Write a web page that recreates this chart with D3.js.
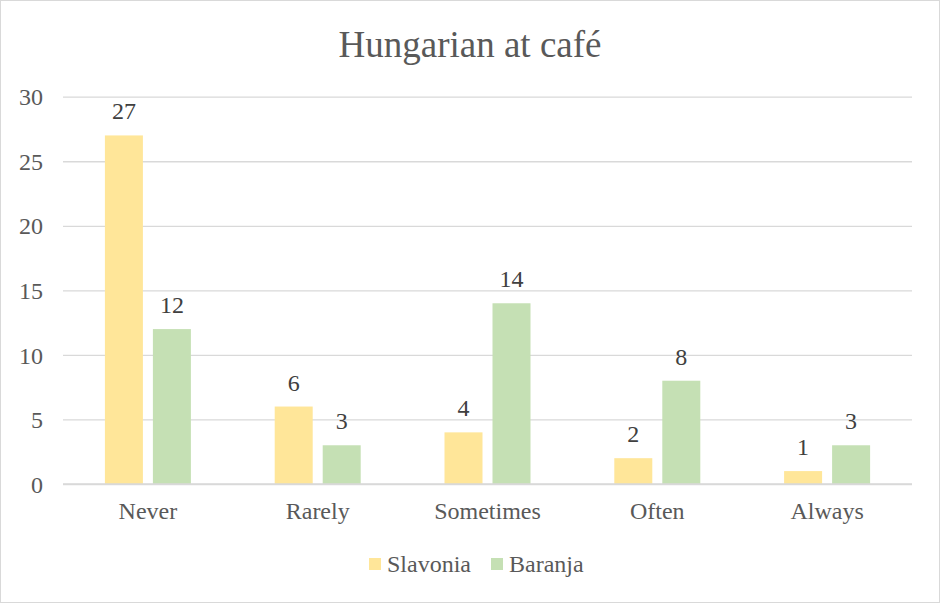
<!DOCTYPE html>
<html>
<head>
<meta charset="utf-8">
<script src="https://cdn.jsdelivr.net/npm/d3@7"></script>
<style>
  html, body { margin: 0; padding: 0; background: #fff; }
  svg { display: block; }
  svg text { font-family: 'Liberation Serif', 'Times New Roman', serif !important; }
</style>
</head>
<body>
<svg id="chart" width="940" height="603"></svg>
<script>
const categories = ["Never", "Rarely", "Sometimes", "Often", "Always"];
const seriesNames = ["Slavonia", "Baranja"];
const slavonia = [27, 6, 4, 2, 1];
const baranja = [12, 3, 14, 8, 3];
const yTicks = [0, 5, 10, 15, 20, 25, 30];
const colors = ["#FFE699", "#C5E0B4"];
const title = "Hungarian at café";

const seriesValues = [slavonia, baranja];
const W = 940, H = 603;
const FONT = "'Liberation Serif', 'Times New Roman', serif";
const svg = d3.select("#chart");

svg.append("rect").attr("x", 0.5).attr("y", 0.5).attr("width", W - 1).attr("height", H - 1)
  .attr("fill", "#fff").attr("stroke", "#D9D9D9").attr("stroke-width", 1);

const plot = { left: 63, right: 912, top: 96.7, bottom: 484 };

const y = d3.scaleLinear().domain([0, 30]).range([plot.bottom, plot.top]);
const x0 = d3.scaleBand().domain(categories).range([plot.left, plot.right]).padding(0);
const groupW = x0.bandwidth() * 0.5065;
const x1 = d3.scaleBand().domain(seriesNames).range([0, groupW]).paddingInner(0.2083).paddingOuter(0);

// gridlines + y labels
const yAxis = d3.axisLeft(y).tickValues(yTicks).tickSize(-(plot.right - plot.left)).tickPadding(20).tickFormat(d3.format("d"));
const gy = svg.append("g").attr("transform", `translate(${plot.left},0)`).call(yAxis)
  .attr("font-family", FONT);
gy.select(".domain").remove();
gy.selectAll(".tick line").attr("stroke", "#D9D9D9").attr("stroke-width", 1.3);
gy.selectAll(".tick text").attr("fill", "#595959").attr("font-size", 24)
  .attr("font-family", FONT).attr("dy", "0.34em");

// bars
categories.forEach((c, i) => {
  const gx = x0(c) + (x0.bandwidth() - groupW) / 2;
  seriesNames.forEach((s, j) => {
    const v = seriesValues[j][i];
    svg.append("rect")
      .attr("x", gx + x1(s)).attr("y", y(v))
      .attr("width", x1.bandwidth()).attr("height", y(0) - y(v))
      .attr("fill", colors[j]);
    svg.append("text")
      .attr("x", gx + x1(s) + x1.bandwidth() / 2)
      .attr("y", y(v) - 16)
      .attr("text-anchor", "middle").attr("font-size", 24).attr("fill", "#404040")
      .attr("font-family", FONT)
      .text(v);
  });
});

// x axis line
svg.append("line").attr("x1", plot.left).attr("x2", plot.right)
  .attr("y1", y(0)).attr("y2", y(0)).attr("stroke", "#D9D9D9").attr("stroke-width", 1.3);

// x axis labels
const xAxis = d3.axisBottom(x0).tickSize(0).tickPadding(0);
const gx = svg.append("g").attr("transform", `translate(0,${y(0)})`).call(xAxis)
  .attr("font-family", FONT);
gx.select(".domain").remove();
gx.selectAll(".tick text").attr("fill", "#595959").attr("font-size", 24)
  .attr("font-family", FONT)
  .attr("dy", null).attr("y", 35);

// title
svg.append("text").attr("x", W / 2).attr("y", 56.5).attr("text-anchor", "middle")
  .attr("font-size", 37).attr("fill", "#595959").attr("font-family", FONT).text(title);

// legend
const legendItems = [
  { name: seriesNames[0], color: colors[0], x: 369 },
  { name: seriesNames[1], color: colors[1], x: 491 }
];
legendItems.forEach(it => {
  svg.append("rect").attr("x", it.x).attr("y", 558).attr("width", 12).attr("height", 12).attr("fill", it.color);
  svg.append("text").attr("x", it.x + 18).attr("y", 572).attr("font-size", 24).attr("fill", "#595959")
    .attr("font-family", FONT).text(it.name);
});
</script>
</body>
</html>
